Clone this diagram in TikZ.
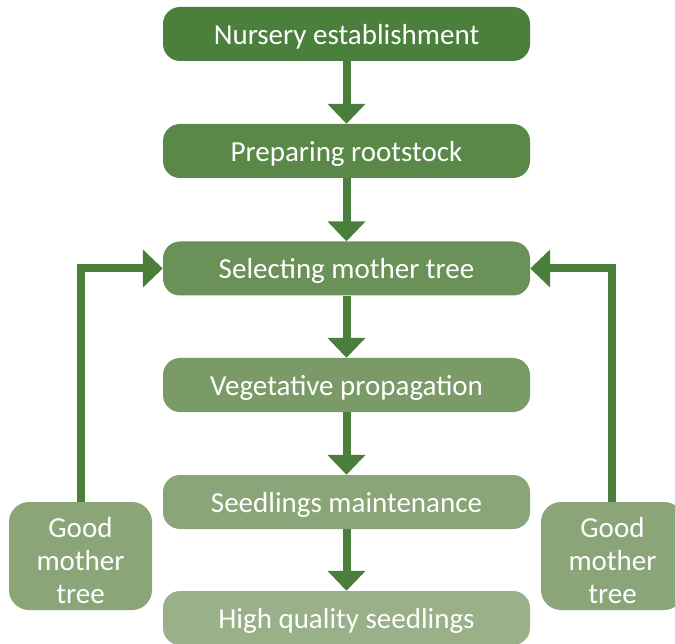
\documentclass[tikz,border=0pt]{standalone}
\usepackage{fontspec}
\setmainfont{Carlito}
\usetikzlibrary{arrows.meta}
\definecolor{arrowgreen}{HTML}{4A7E3B}
\definecolor{cA}{HTML}{4B7F3C}
\definecolor{cB}{HTML}{5A8848}
\definecolor{cC}{HTML}{6A9157}
\definecolor{cD}{HTML}{7A9B67}
\definecolor{cE}{HTML}{8AA577}
\definecolor{cF}{HTML}{9AB088}
\tikzset{
  stepbox/.style={rounded corners=17pt, minimum width=367pt, minimum height=54pt,
    inner sep=0pt, text height=21pt, text depth=0pt, text=white,
    font=\fontsize{29}{33}\selectfont},
  sidebox/.style={rounded corners=20pt, fill=cE, minimum width=143pt, minimum height=108pt,
    inner sep=0pt, text height=94pt, text depth=0pt, text=white, align=center,
    font=\fontsize{29}{33}\selectfont},
  flow/.style={draw=arrowgreen, line width=8pt,
    -{Triangle[width=37pt,length=20pt]}},
}
\begin{document}
\begin{tikzpicture}[x=1pt,y=-1pt]
\useasboundingbox (0,0) rectangle (675,644);
\node[stepbox, fill=cA] (nur) at (346.5,34) {Nursery establishment};
\node[stepbox, fill=cB] (root) at (346.5,151) {Preparing rootstock};
\node[stepbox, fill=cC] (sel) at (346.5,268.5) {Selecting mother tree};
\node[stepbox, fill=cD] (veg) at (346.5,385) {Vegetative propagation};
\node[stepbox, fill=cE] (main) at (346.5,502) {Seedlings maintenance};
\node[stepbox, fill=cF] (high) at (346.5,618) {High quality seedlings};
\node[sidebox] (goodL) at (80.5,556) {Good\\mother\\tree};
\node[sidebox] (goodR) at (612.5,556) {Good\\mother\\tree};
\draw[flow] (nur.south) -- (root.north);
\draw[flow] (root.south) -- (sel.north);
\draw[flow] (sel.south) -- (veg.north);
\draw[flow] (veg.south) -- (main.north);
\draw[flow] (main.south) -- (high.north);
\draw[flow] (goodL.north) |- (sel.west);
\draw[flow] (goodR.north -| 611.5,0) |- (sel.east);
\end{tikzpicture}
\end{document}
